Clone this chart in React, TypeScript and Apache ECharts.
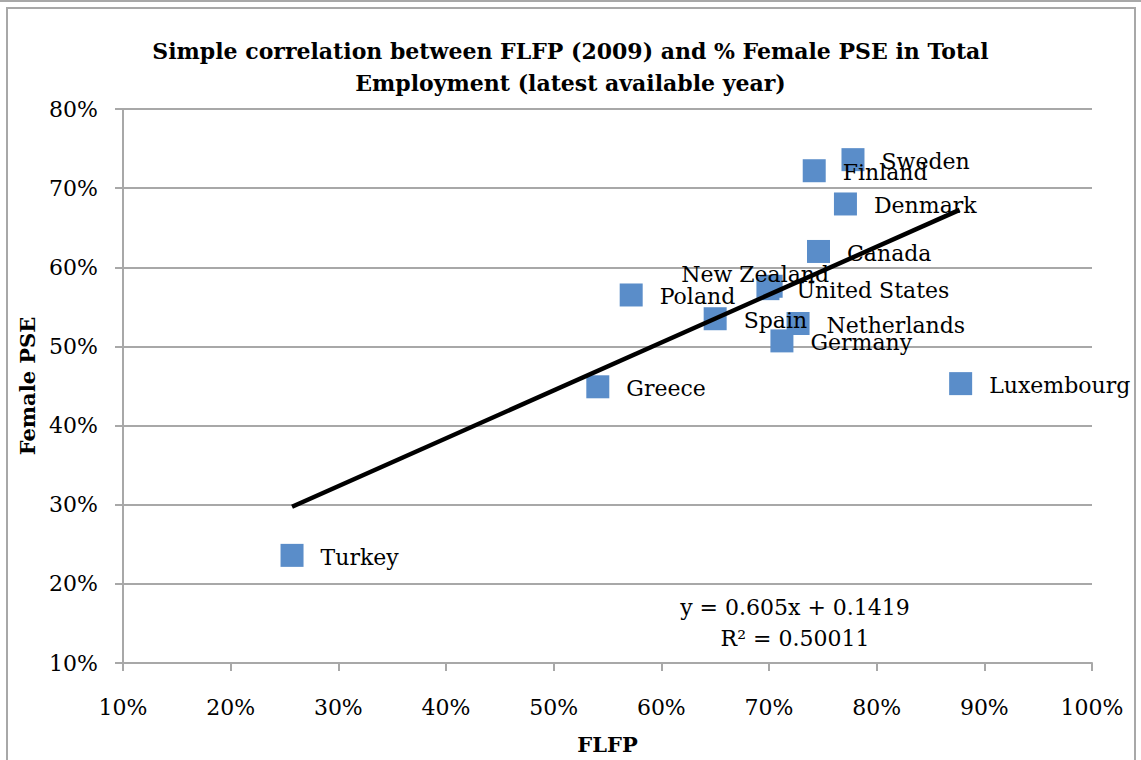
import React, { useEffect, useRef } from "react";
import * as echarts from "echarts";

const countries = ["Sweden", "Finland", "Denmark", "Canada", "New Zealand", "United States", "Poland", "Spain", "Netherlands", "Germany", "Greece", "Luxembourg", "Turkey"];
const flfp = [0.778, 0.742, 0.771, 0.746, 0.702, 0.699, 0.572, 0.650, 0.727, 0.712, 0.541, 0.878, 0.257];
const femalePse = [0.736, 0.722, 0.680, 0.620, 0.576, 0.573, 0.565, 0.535, 0.529, 0.507, 0.449, 0.453, 0.236];
const trendX = [0.257, 0.877];
const trendY = [0.2974, 0.6725];
const titleText = "Simple correlation between FLFP (2009) and % Female PSE in Total\nEmployment (latest available year)";
const xName = "FLFP";
const yName = "Female PSE";
const equationLines = ["y = 0.605x + 0.1419", "R\u00B2 = 0.50011"];

const FONT = "'DejaVu Serif', serif";

export default function App() {
  const ref = useRef<HTMLDivElement>(null);
  useEffect(() => {
    if (!ref.current) return;
    const chart = echarts.init(ref.current, null, { renderer: "svg" });
    const pct = (v: number) => Math.round(v * 100) + "%";
    const pts = countries.map((c, i) => {
      const item: any = { name: c, value: [flfp[i], femalePse[i]] };
      if (c === "New Zealand") {
        item.label = { position: "inside", offset: [-16, -12] };
      }
      return item;
    });
    chart.setOption({
      animation: false,
      backgroundColor: "#ffffff",
      title: {
        text: titleText,
        left: "center",
        top: 30,
        textStyle: { fontFamily: FONT, fontWeight: "bold", fontSize: 22, color: "#000", lineHeight: 32 },
      },
      grid: { left: 123, width: 969, top: 109, height: 555 },
      xAxis: {
        type: "value",
        min: 0.1,
        max: 1.0,
        interval: 0.1,
        name: xName,
        nameLocation: "middle",
        nameGap: 71,
        nameTextStyle: { fontFamily: FONT, fontWeight: "bold", fontSize: 21, color: "#000" },
        axisLine: { show: true, lineStyle: { color: "#a8a8a8", width: 2 } },
        axisTick: { show: true, length: 8, lineStyle: { color: "#a8a8a8", width: 2 } },
        axisLabel: { formatter: pct, fontFamily: FONT, fontSize: 22, color: "#000", margin: 33 },
        splitLine: { show: false },
      },
      yAxis: {
        type: "value",
        min: 0.1,
        max: 0.8,
        interval: 0.1,
        name: yName,
        nameLocation: "middle",
        nameRotate: 90,
        nameGap: 84,
        nameTextStyle: { fontFamily: FONT, fontWeight: "bold", fontSize: 21, color: "#000" },
        axisLine: { show: true, lineStyle: { color: "#a8a8a8", width: 2 } },
        axisTick: { show: true, length: 8, lineStyle: { color: "#a8a8a8", width: 2 } },
        axisLabel: { formatter: pct, fontFamily: FONT, fontSize: 22, color: "#000", margin: 25 },
        splitLine: { show: true, lineStyle: { color: "#a8a8a8", width: 2 } },
      },
      series: [
        {
          type: "scatter",
          symbol: "rect",
          symbolSize: 23,
          itemStyle: { color: "#5a8dc9", opacity: 1 },
          data: pts,
          label: {
            show: true,
            position: "right",
            distance: 17,
            offset: [0, 2],
            formatter: (p: any) => p.name,
            fontFamily: FONT,
            fontSize: 22,
            color: "#000",
          },
          z: 2,
        },
        {
          type: "line",
          data: trendX.map((x, i) => [x, trendY[i]]),
          symbol: "none",
          lineStyle: { color: "#000", width: 4.5 },
          z: 3,
          silent: true,
        },
      ],
      graphic: [
        { type: "rect", shape: { x: 7, y: 8, width: 1128, height: 800 }, style: { fill: "none", stroke: "#a8a8a8", lineWidth: 2 }, silent: true },
        { type: "line", shape: { x1: 0, y1: 1, x2: 1141, y2: 1 }, style: { stroke: "#a8a8a8", lineWidth: 2 }, silent: true },
        { type: "text", x: 795, y: 607, style: { text: equationLines[0], fontFamily: FONT, fontSize: 22, fill: "#000", align: "center", verticalAlign: "middle" } },
        { type: "text", x: 795, y: 638, style: { text: equationLines[1], fontFamily: FONT, fontSize: 22, fill: "#000", align: "center", verticalAlign: "middle" } },
      ],
    });
    return () => chart.dispose();
  }, []);
  return <div ref={ref} style={{ position: "fixed", left: 0, top: 0, width: 1141, height: 760 }} />;
}
